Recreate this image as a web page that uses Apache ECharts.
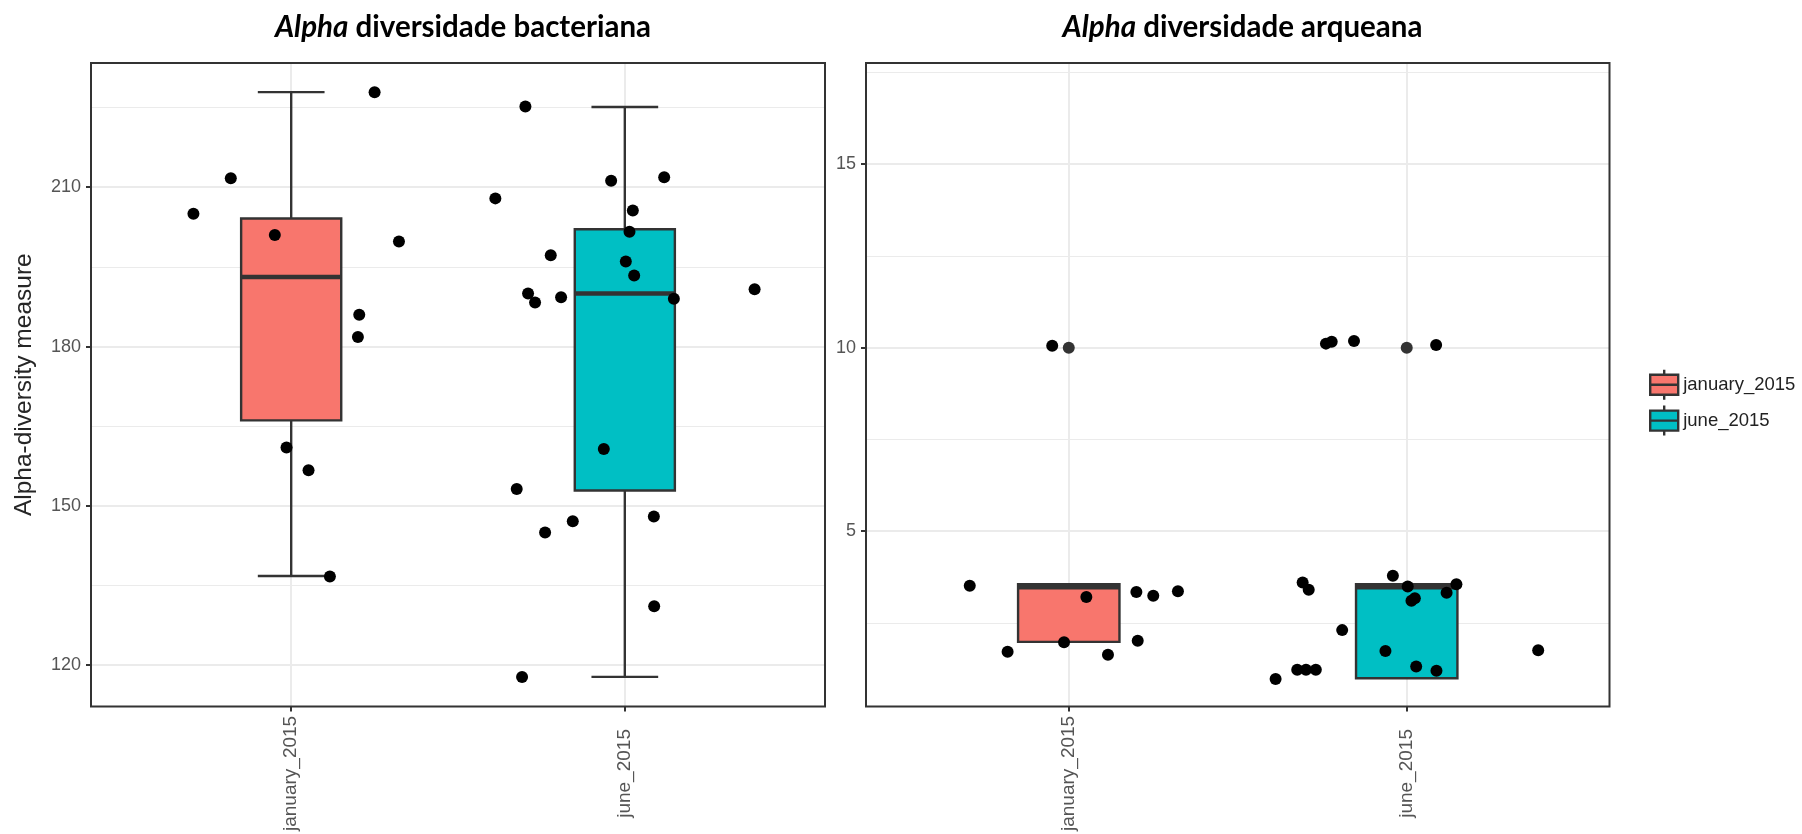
<!DOCTYPE html>
<html>
<head>
<meta charset="utf-8">
<script src="https://cdn.jsdelivr.net/npm/echarts@6/dist/echarts.min.js"></script>
<style>
html,body{margin:0;padding:0;background:#ffffff;}
#chart{width:1802px;height:834px;}
</style>
</head>
<body>
<div id="chart"></div>
<script>
// ---------------- data ----------------
const categories = ['january_2015', 'june_2015'];
const categoryPos = [1, 2];
const boxColors = ['#F8766D', '#00BFC4'];

const panelTitles = ['diversidade bacteriana', 'diversidade arqueana'];

// tick labels / breaks
const bactTicks = [120, 150, 180, 210];
const bactMinor = [135, 165, 195, 225];
const archTicks = [5, 10, 15];
const archMinor = [2.5, 7.5, 12.5, 17.5];

// horizontal jitter position of each sample (same in both panels)
const janJitterX = [0.707, 0.819, 0.951, 1.250, 1.323, 1.204, 1.200, 0.986, 1.052, 1.116];
const junJitterX = [1.612, 1.676, 1.692, 1.702, 1.710, 1.731, 1.761, 1.778, 1.809, 1.844, 1.937,
                    1.959, 2.003, 2.014, 2.024, 2.028, 2.087, 2.088, 2.118, 2.147, 2.389];

// bacterial alpha diversity per sample
const janBact = [205.0, 211.7, 201.0, 227.9, 199.8, 186.0, 181.8, 161.0, 156.7, 136.7];
const junBact = [207.9, 153.2, 117.8, 225.2, 190.0, 188.3, 145.0, 197.2, 189.3, 147.1, 160.7,
                 211.2, 196.0, 201.6, 205.6, 193.4, 148.0, 131.1, 211.9, 189.0, 190.8];

// archaeal alpha diversity per sample
const janArch = [3.51, 1.71, 10.05, 3.24, 3.36, 2.01, 3.34, 1.97, 3.20, 1.63];
const junArch = [0.97, 1.22, 3.60, 1.22, 3.40, 1.22, 10.11, 10.16, 2.30, 10.18, 1.73,
                 3.78, 3.49, 3.10, 3.17, 1.31, 10.07, 1.19, 3.32, 3.55, 1.75];

// box statistics: [Q1, median, Q3, lower whisker, upper whisker]
const bactBoxJan = [166.1, 193.1, 204.1, 136.8, 227.9];
const bactBoxJun = [152.9, 190.0, 202.1, 117.8, 225.1];
// archaeal boxes (no whiskers drawn): [Q1, median, Q3]
const archBoxJan = [1.98, 3.47, 3.55];
const archBoxJun = [0.99, 3.47, 3.55];
// archaeal boxplot outliers
const archOutJan = [10.0];
const archOutJun = [10.0];

// axis ranges
const bactRange = [112.24, 233.39];
const archRange = [0.22, 17.76];
const xRange = [0.4, 2.6];

// ---------------- styling ----------------
const FONT = '"Liberation Sans", Arial, Helvetica, sans-serif';
const TITLE_FONT = 'Lato, "Open Sans", "Noto Sans", sans-serif';
const DARK = '#333333';
const GRIDC = '#EBEBEB';
const HALF_BOX = 0.15, HALF_CAP = 0.1;

function makeBoxRender(withWhiskers) {
  return function (params, api) {
    const x = api.value(0);
    const q1 = api.value(1), med = api.value(2), q3 = api.value(3);
    const color = api.visual('color');
    const children = [];
    const lineStyle = { stroke: DARK, lineWidth: 2.4 };
    if (withWhiskers) {
      const lo = api.value(4), hi = api.value(5);
      const pHi = api.coord([x, hi]), pQ3 = api.coord([x, q3]);
      const pQ1 = api.coord([x, q1]), pLo = api.coord([x, lo]);
      const capHiL = api.coord([x - HALF_CAP, hi]), capHiR = api.coord([x + HALF_CAP, hi]);
      const capLoL = api.coord([x - HALF_CAP, lo]), capLoR = api.coord([x + HALF_CAP, lo]);
      children.push({ type: 'line', shape: { x1: pHi[0], y1: pHi[1], x2: pQ3[0], y2: pQ3[1] }, style: lineStyle });
      children.push({ type: 'line', shape: { x1: pQ1[0], y1: pQ1[1], x2: pLo[0], y2: pLo[1] }, style: lineStyle });
      children.push({ type: 'line', shape: { x1: capHiL[0], y1: capHiL[1], x2: capHiR[0], y2: capHiR[1] }, style: lineStyle });
      children.push({ type: 'line', shape: { x1: capLoL[0], y1: capLoL[1], x2: capLoR[0], y2: capLoR[1] }, style: lineStyle });
    }
    const tl = api.coord([x - HALF_BOX, q3]);
    const br = api.coord([x + HALF_BOX, q1]);
    children.push({ type: 'rect', shape: { x: tl[0], y: tl[1], width: br[0] - tl[0], height: br[1] - tl[1] },
                    style: { fill: color, stroke: DARK, lineWidth: 2.4 } });
    const mL = api.coord([x - HALF_BOX, med]), mR = api.coord([x + HALF_BOX, med]);
    children.push({ type: 'line', shape: { x1: mL[0], y1: mL[1], x2: mR[0], y2: mR[1] },
                    style: { stroke: DARK, lineWidth: 4.5 } });
    return { type: 'group', children: children };
  };
}

function zip(xs, ys) { return xs.map((x, i) => [x, ys[i]]); }

function gridLines(major, minor) {
  const data = [];
  major.forEach(v => data.push({ yAxis: v, lineStyle: { color: GRIDC, width: 2, type: 'solid' } }));
  minor.forEach(v => data.push({ yAxis: v, lineStyle: { color: GRIDC, width: 1.2, type: 'solid' } }));
  categoryPos.forEach(v => data.push({ xAxis: v, lineStyle: { color: GRIDC, width: 2, type: 'solid' } }));
  return { silent: true, symbol: ['none', 'none'], label: { show: false }, z: 1, animation: false, data: data };
}

function xAxisCfg(gi) {
  return {
    type: 'value', gridIndex: gi, min: xRange[0], max: xRange[1],
    axisLine: { show: false, onZero: false },
    splitLine: { show: false },
    axisTick: { show: true, length: 5, lineStyle: { color: DARK, width: 2 }, customValues: categoryPos },
    axisLabel: {
      customValues: categoryPos,
      formatter: v => categories[Math.round(v) - 1],
      rotate: 90, align: 'center', verticalAlign: 'middle', margin: 67,
      fontSize: 19, color: '#555555', fontFamily: FONT
    }
  };
}

function yAxisCfg(gi, range, ticks, extra) {
  return Object.assign({
    type: 'value', gridIndex: gi, min: range[0], max: range[1],
    axisLine: { show: false, onZero: false },
    splitLine: { show: false },
    axisTick: { show: true, length: 5, lineStyle: { color: DARK, width: 2 }, customValues: ticks },
    axisLabel: { customValues: ticks, fontSize: 18, color: '#555555', margin: 10, fontFamily: FONT }
  }, extra || {});
}

const legendIcon = 'path://M14,0V5M0,5H28V25H0ZM0,15H28M14,25V30';

const chart = echarts.init(document.getElementById('chart'));
const option = {
  backgroundColor: '#ffffff',
  animation: false,
  title: [0, 1].map(i => ({
    text: '{i|Alpha} ' + panelTitles[i],
    left: i === 0 ? 458 : 1237.5,
    top: 4,
    textAlign: 'center',
    textStyle: {
      fontFamily: TITLE_FONT, fontWeight: 'bold', fontSize: 29.5, color: '#000000', lineHeight: 36,
      rich: { i: { fontFamily: TITLE_FONT, fontWeight: 'bold', fontStyle: 'italic', fontSize: 29.5, color: '#000000', lineHeight: 36 } }
    }
  })),
  legend: {
    orient: 'vertical', left: 1649, top: 368.5, padding: 0,
    itemWidth: 28, itemHeight: 30, itemGap: 3.5,
    selectedMode: false,
    data: categories.map(n => ({ name: n, icon: legendIcon })),
    itemStyle: { borderColor: DARK, borderWidth: 2.4 },
    textStyle: { fontSize: 18.5, color: '#222222', fontFamily: FONT }
  },
  grid: [
    { left: 91, top: 63, width: 734, height: 649, show: true, borderColor: DARK, borderWidth: 2, backgroundColor: 'transparent', z: 20 },
    { left: 866, top: 63, width: 743.5, height: 649, show: true, borderColor: DARK, borderWidth: 2, backgroundColor: 'transparent', z: 20 }
  ],
  xAxis: [xAxisCfg(0), xAxisCfg(1)],
  yAxis: [
    yAxisCfg(0, bactRange, bactTicks, {
      name: 'Alpha-diversity measure', nameLocation: 'middle', nameGap: 54,
      nameTextStyle: { fontSize: 24.5, color: '#262626', fontFamily: FONT }
    }),
    yAxisCfg(1, archRange, archTicks)
  ],
  series: [
    // ---- bacterial panel ----
    {
      type: 'scatter', name: 'bact_points', xAxisIndex: 0, yAxisIndex: 0, z: 5,
      symbolSize: 12, itemStyle: { color: '#000000', opacity: 1 },
      data: zip(janJitterX, janBact).concat(zip(junJitterX, junBact)),
      markLine: gridLines(bactTicks, bactMinor)
    },
    {
      type: 'custom', name: categories[0], xAxisIndex: 0, yAxisIndex: 0, z: 3,
      itemStyle: { color: boxColors[0] }, renderItem: makeBoxRender(true),
      encode: { x: 0, y: [1, 2, 3, 4, 5] },
      data: [[categoryPos[0]].concat(bactBoxJan)]
    },
    {
      type: 'custom', name: categories[1], xAxisIndex: 0, yAxisIndex: 0, z: 3,
      itemStyle: { color: boxColors[1] }, renderItem: makeBoxRender(true),
      encode: { x: 0, y: [1, 2, 3, 4, 5] },
      data: [[categoryPos[1]].concat(bactBoxJun)]
    },
    // ---- archaeal panel ----
    {
      type: 'scatter', name: 'arch_points', xAxisIndex: 1, yAxisIndex: 1, z: 5,
      symbolSize: 12, itemStyle: { color: '#000000', opacity: 1 },
      data: zip(janJitterX, janArch).concat(zip(junJitterX, junArch)),
      markLine: gridLines(archTicks, archMinor)
    },
    {
      type: 'scatter', name: 'arch_outliers', xAxisIndex: 1, yAxisIndex: 1, z: 4,
      symbolSize: 12, itemStyle: { color: DARK, opacity: 1 },
      data: archOutJan.map(v => [categoryPos[0], v]).concat(archOutJun.map(v => [categoryPos[1], v]))
    },
    {
      type: 'custom', name: categories[0], xAxisIndex: 1, yAxisIndex: 1, z: 3,
      itemStyle: { color: boxColors[0] }, renderItem: makeBoxRender(false),
      encode: { x: 0, y: [1, 2, 3] },
      data: [[categoryPos[0]].concat(archBoxJan)]
    },
    {
      type: 'custom', name: categories[1], xAxisIndex: 1, yAxisIndex: 1, z: 3,
      itemStyle: { color: boxColors[1] }, renderItem: makeBoxRender(false),
      encode: { x: 0, y: [1, 2, 3] },
      data: [[categoryPos[1]].concat(archBoxJun)]
    }
  ]
};
chart.setOption(option);
</script>
</body>
</html>
